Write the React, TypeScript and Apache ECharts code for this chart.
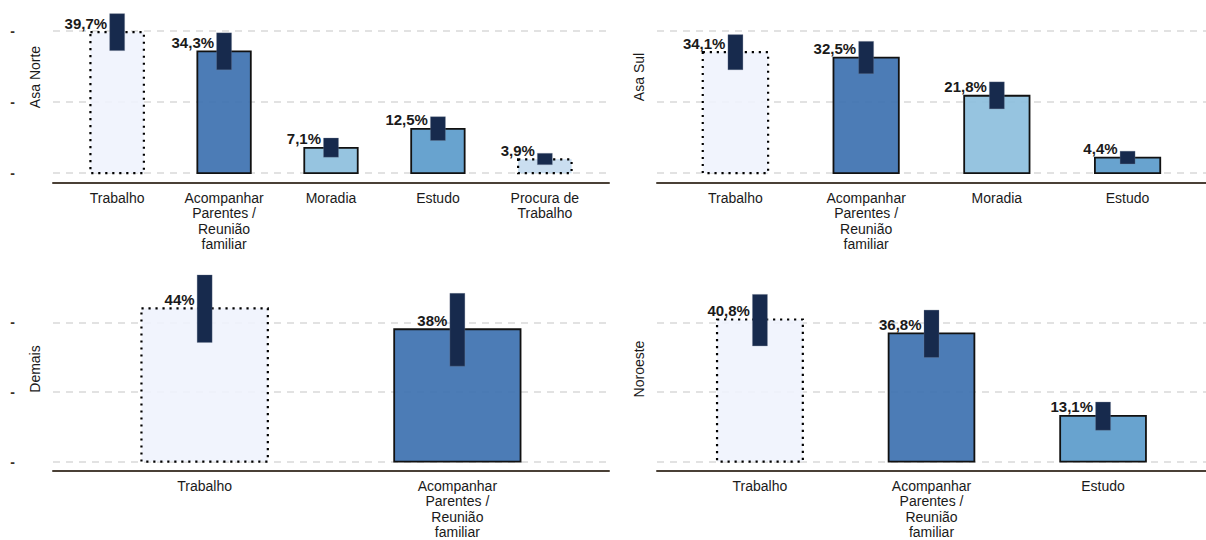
import React, { useEffect, useRef } from "react";
import * as echarts from "echarts";

// ---------- DATA ----------
const panelNames = ["Asa Norte", "Asa Sul", "Demais", "Noroeste"];

const asaNorteCategories = ["Trabalho", "Acompanhar\nParentes /\nReunião\nfamiliar", "Moradia", "Estudo", "Procura de\nTrabalho"];
const asaNorteValues = [39.7, 34.3, 7.1, 12.5, 3.9];
const asaNorteLow = [34.5, 29.1, 4.5, 9.2, 2.4];
const asaNorteHigh = [44.9, 39.5, 9.9, 15.9, 5.6];

const asaSulCategories = ["Trabalho", "Acompanhar\nParentes /\nReunião\nfamiliar", "Moradia", "Estudo"];
const asaSulValues = [34.1, 32.5, 21.8, 4.4];
const asaSulLow = [29.1, 28.0, 18.1, 2.6];
const asaSulHigh = [39.0, 37.1, 25.7, 6.2];

const demaisCategories = ["Trabalho", "Acompanhar\nParentes /\nReunião\nfamiliar"];
const demaisValues = [44, 38];
const demaisLow = [34.2, 27.4];
const demaisHigh = [53.6, 48.3];

const noroesteCategories = ["Trabalho", "Acompanhar\nParentes /\nReunião\nfamiliar", "Estudo"];
const noroesteValues = [40.8, 36.8, 13.1];
const noroesteLow = [33.2, 29.9, 9.0];
const noroesteHigh = [48.0, 43.5, 17.1];

const gridValues = [0, 20, 40];

// ---------- STYLE ----------
const FONT = '"Liberation Sans", Arial, Helvetica, sans-serif';
const NAVY = "#172a4d";

function barStyle(cat: string) {
  if (cat === "Trabalho") return { fill: "rgba(239,243,253,0.9)", dotted: true };
  if (cat.startsWith("Acompanhar")) return { fill: "rgba(62,114,176,0.93)", dotted: false };
  if (cat === "Moradia") return { fill: "rgba(142,192,222,0.93)", dotted: false };
  if (cat === "Estudo") return { fill: "rgba(92,156,203,0.93)", dotted: false };
  return { fill: "rgba(196,218,238,0.9)", dotted: true };
}

function fmt(v: number) {
  return (Number.isInteger(v) ? String(v) : v.toFixed(1).replace(".", ",")) + "%";
}

const panels = [
  { name: panelNames[0], cats: asaNorteCategories, values: asaNorteValues, low: asaNorteLow, high: asaNorteHigh },
  { name: panelNames[1], cats: asaSulCategories, values: asaSulValues, low: asaSulLow, high: asaSulHigh },
  { name: panelNames[2], cats: demaisCategories, values: demaisValues, low: demaisLow, high: demaisHigh },
  { name: panelNames[3], cats: noroesteCategories, values: noroesteValues, low: noroesteLow, high: noroesteHigh },
];

// layout per panel
const layouts = [
  { left: 53, width: 556, top: 0.5, height: 182.3, yMax: 48.6, nameX: 35, nameY: 77, ticks: true },
  { left: 657, width: 556, top: 0.5, height: 182.3, yMax: 48.6, nameX: 639, nameY: 77, ticks: false },
  { left: 53, width: 556, top: 262, height: 213.3, yMax: 57.3, nameX: 35, nameY: 369, ticks: true },
  { left: 657, width: 556, top: 262, height: 213.3, yMax: 57.3, nameX: 639, nameY: 369, ticks: false },
];
const Y_MIN = -2.7;

export default function App() {
  const ref = useRef<HTMLDivElement>(null);

  useEffect(() => {
    if (!ref.current) return;
    const chart = echarts.init(ref.current, undefined, { renderer: "svg" });

    const grids: any[] = [];
    const xAxes: any[] = [];
    const yAxes: any[] = [];
    const series: any[] = [];
    const graphics: any[] = [];

    panels.forEach((p, i) => {
      const L = layouts[i];
      const n = p.cats.length;
      grids.push({ left: L.left, width: L.width, top: L.top, height: L.height, containLabel: false });
      xAxes.push({
        type: "value",
        gridIndex: i,
        min: 0.4,
        max: n + 0.6,
        splitLine: { show: false },
        axisTick: { show: false },
        axisLine: { show: true, onZero: false, lineStyle: { color: "#4a4036", width: 2 } },
        axisLabel: {
          customValues: p.cats.map((_, k) => k + 1),
          formatter: (v: number) => p.cats[Math.round(v) - 1] ?? "",
          color: "#1a1a1a",
          fontSize: 14,
          fontFamily: FONT,
          lineHeight: 15.5,
          margin: 7,
          hideOverlap: false,
        },
      });
      yAxes.push({
        type: "value",
        gridIndex: i,
        min: Y_MIN,
        max: L.yMax,
        splitLine: { show: false },
        axisTick: { show: false },
        axisLine: { show: false },
        axisLabel: {
          show: L.ticks,
          customValues: gridValues,
          formatter: () => "-",
          color: "#3b3128",
          fontSize: 14,
          fontWeight: "bold",
          fontFamily: FONT,
          margin: 38,
        },
      });

      // gridlines
      series.push({
        type: "line",
        xAxisIndex: i,
        yAxisIndex: i,
        data: [],
        silent: true,
        z: 1,
        markLine: {
          z: 1,
          symbol: "none",
          silent: true,
          label: { show: false },
          lineStyle: { color: "#d9d9d9", type: [7, 6], width: 1.5 },
          data: gridValues.map((v) => ({ yAxis: v })),
        },
      });

      const data = p.values.map((v, k) => [k + 1, v, p.low[k], p.high[k]]);

      // bars
      series.push({
        type: "custom",
        xAxisIndex: i,
        yAxisIndex: i,
        z: 3,
        data,
        encode: { x: 0, y: 1 },
        renderItem: (params: any, api: any) => {
          const x = api.value(0);
          const v = api.value(1);
          const cat = p.cats[params.dataIndex];
          const st = barStyle(cat);
          const a = api.coord([x - 0.25, v]);
          const b = api.coord([x + 0.25, 0]);
          return {
            type: "rect",
            shape: { x: a[0], y: a[1], width: b[0] - a[0], height: b[1] - a[1] },
            style: st.dotted
              ? { fill: st.fill, stroke: "#000", lineWidth: 2.2, lineDash: [2.2, 4.8] }
              : { fill: st.fill, stroke: "#111", lineWidth: 1.8 },
          };
        },
      });

      // error bars + labels
      series.push({
        type: "custom",
        xAxisIndex: i,
        yAxisIndex: i,
        z: 4,
        data,
        encode: { x: 0, y: 1 },
        renderItem: (params: any, api: any) => {
          const x = api.value(0);
          const v = api.value(1);
          const lo = api.value(2);
          const hi = api.value(3);
          const c = api.coord([x, v]);
          const pHi = api.coord([x, hi]);
          const pLo = api.coord([x, lo]);
          const w = 15;
          return {
            type: "group",
            children: [
              {
                type: "rect",
                shape: { x: c[0] - w / 2, y: pHi[1], width: w, height: pLo[1] - pHi[1] },
                style: { fill: NAVY, stroke: "rgba(120,130,150,0.5)", lineWidth: 0.6 },
              },
              {
                type: "text",
                x: c[0] - 10,
                y: c[1] - 1.5,
                style: {
                  text: fmt(v),
                  align: "right",
                  verticalAlign: "bottom",
                  fontSize: 15,
                  fontWeight: "bold",
                  fontFamily: FONT,
                  fill: "#1a1a1a",
                },
              },
            ],
          };
        },
      });

      graphics.push({
        type: "text",
        x: L.nameX,
        y: L.nameY,
        rotation: Math.PI / 2,
        style: {
          text: p.name,
          align: "center",
          verticalAlign: "middle",
          fontSize: 14,
          fontFamily: FONT,
          fill: "#1a1a1a",
        },
      });
    });

    chart.setOption({
      animation: false,
      backgroundColor: "#ffffff",
      grid: grids,
      xAxis: xAxes,
      yAxis: yAxes,
      series,
      graphic: graphics,
    });

    return () => chart.dispose();
  }, []);

  return (
    <div
      ref={ref}
      style={{ position: "fixed", left: 0, top: 0, width: 1206, height: 540 }}
    />
  );
}
